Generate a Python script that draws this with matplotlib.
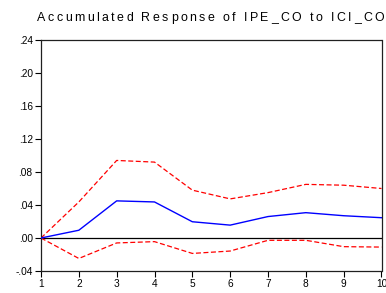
import matplotlib
matplotlib.use("Agg")
import matplotlib.pyplot as plt
from matplotlib.font_manager import FontProperties

periods = [1, 2, 3, 4, 5, 6, 7, 8, 9, 10]
response = [0.0, 0.0094, 0.045, 0.0437, 0.0197, 0.0156, 0.026, 0.0307, 0.027, 0.0246]
upper = [0.0, 0.0437, 0.094, 0.092, 0.058, 0.0474, 0.055, 0.065, 0.064, 0.060]
lower = [0.0, -0.0248, -0.006, -0.0044, -0.0187, -0.0158, -0.0028, -0.0028, -0.0105, -0.011]
yticks = [-0.04, 0.0, 0.04, 0.08, 0.12, 0.16, 0.20, 0.24]
ylabels = ["-.04", ".00", ".04", ".08", ".12", ".16", ".20", ".24"]
title = "Accumulated Response of IPE_CO to ICI_CO"

plt.rcParams["font.family"] = ["Liberation Sans", "DejaVu Sans"]

W, H = 386, 293
fig = plt.figure(figsize=(W / 100, H / 100), dpi=100)
ax = fig.add_axes([41 / W, 1 - 271 / H, 340.5 / W, 231 / H])

ax.axhline(0, color="black", lw=0.9, zorder=1)
ax.plot(periods, response, color="#0000ff", lw=1.0, zorder=3)
ax.plot(periods, upper, color="#ff0000", lw=0.9, ls=(0, (4, 2)), zorder=2)
ax.plot(periods, lower, color="#ff0000", lw=0.9, ls=(0, (4, 2)), zorder=2)

ax.set_xlim(1, 10)
ax.set_ylim(-0.04, 0.24)
ax.set_xticks(periods)
ax.set_xticklabels([str(p) for p in periods])
ax.set_yticks(yticks)
ax.set_yticklabels(ylabels)
ax.tick_params(direction="out", length=4, width=0.8, labelsize=7.3, pad=2, colors="black")
for s in ax.spines.values():
    s.set_linewidth(0.9)
    s.set_color("#202020")

# title with wide letter spacing (EViews style), one glyph at a time
prop = FontProperties(family=["Liberation Sans", "DejaVu Sans"], size=8.9)
rend = fig.canvas.get_renderer()


def width_px(s):
    w_s = rend.get_text_width_height_descent(s + "|", prop, ismath=False)[0]
    w_bar = rend.get_text_width_height_descent("|", prop, ismath=False)[0]
    return w_s - w_bar


x0, x1 = 37.0, 384.0
natural = width_px(title)
extra = (x1 - x0 - natural) / (len(title) - 1)
for i, ch in enumerate(title):
    if ch == " ":
        continue
    x = x0 + width_px(title[:i]) + extra * i
    fig.text(x / W, 1 - 20.7 / H, ch, fontproperties=prop,
             ha="left", va="baseline", color="black")

fig.savefig("out.png", dpi=100)
